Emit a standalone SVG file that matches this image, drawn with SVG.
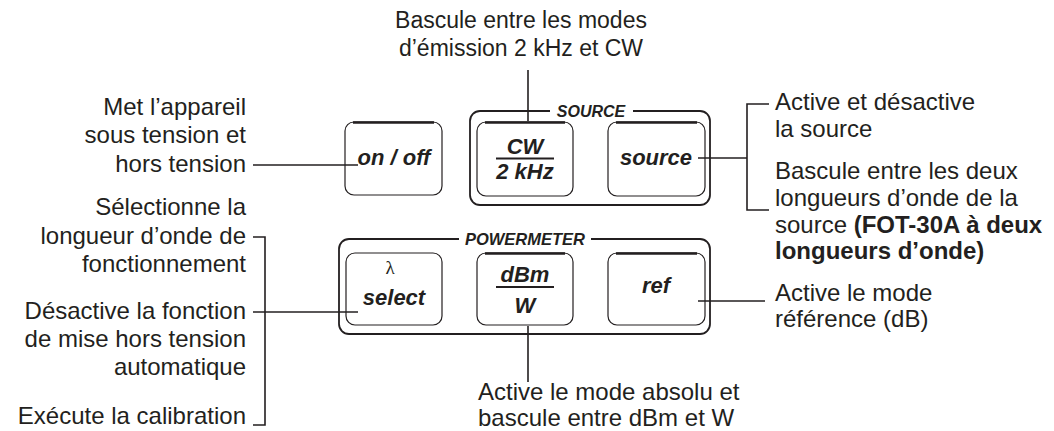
<svg xmlns="http://www.w3.org/2000/svg" width="1054" height="431" viewBox="0 0 1054 431">
  <style>
    .note { font-family: "Liberation Sans", Arial, sans-serif; font-size: 24px; fill: #231f20; }
    .note-top { font-size: 23px; }
    .note-b { font-weight: bold; }
    .key { font-family: "Liberation Sans", Arial, sans-serif; font-size: 22px; font-weight: bold; font-style: italic; fill: #231f20; text-anchor: middle; }
    .grp-label { font-family: "Liberation Sans", Arial, sans-serif; font-size: 16px; font-weight: bold; font-style: italic; fill: #231f20; text-anchor: middle; }
    .lambda { font-family: "Liberation Serif", "Times New Roman", serif; font-size: 19px; fill: #231f20; text-anchor: middle; }
    .btn { fill: #ffffff; stroke: #231f20; stroke-width: 1.2; }
    .btn-top { stroke: #231f20; stroke-width: 2.6; fill: none; }
    .panel { fill: none; stroke: #231f20; stroke-width: 1.8; }
    .wire { stroke: #231f20; stroke-width: 1.6; fill: none; }
    .bar { stroke: #231f20; stroke-width: 1.8; }
  </style>

  <rect width="1054" height="431" fill="#ffffff"/>

  <!-- panel frames, each broken where its title sits -->
  <g id="source-panel">
    <path class="panel" d="M550 111 H480 a10 10 0 0 0 -10 10 V195 a10 10 0 0 0 10 10 H700 a10 10 0 0 0 10 -10 V121 a10 10 0 0 0 -10 -10 H633"/>
    <text class="grp-label" x="591" y="117">SOURCE</text>
  </g>
  <g id="powermeter-panel">
    <path class="panel" d="M459 239 H349 a10 10 0 0 0 -10 10 V324 a10 10 0 0 0 10 10 H700 a10 10 0 0 0 10 -10 V249 a10 10 0 0 0 -10 -10 H591"/>
    <text class="grp-label" x="525" y="245" style="font-size:16.5px">POWERMETER</text>
  </g>

  <!-- keys -->
  <g id="key-onoff">
    <rect class="btn" x="345" y="122" width="97" height="73" rx="9"/>
    <line class="btn-top" x1="353" y1="122.5" x2="434" y2="122.5"/>
    <text class="key" x="394" y="165">on / off</text>
  </g>
  <g id="key-cw">
    <rect class="btn" x="477" y="122" width="96" height="74" rx="9"/>
    <line class="btn-top" x1="485" y1="122.5" x2="565" y2="122.5"/>
    <text class="key" x="525" y="154">CW</text>
    <line class="bar" x1="496" y1="158.5" x2="554" y2="158.5"/>
    <text class="key" x="525" y="179">2 kHz</text>
  </g>
  <g id="key-source">
    <rect class="btn" x="608" y="122" width="97" height="74" rx="9"/>
    <line class="btn-top" x1="616" y1="122.5" x2="697" y2="122.5"/>
    <text class="key" x="656" y="165">source</text>
  </g>
  <g id="key-select">
    <rect class="btn" x="346" y="253" width="96" height="72" rx="9"/>
    <text class="lambda" x="390" y="274">λ</text>
    <text class="key" x="394" y="305">select</text>
  </g>
  <g id="key-dbm">
    <rect class="btn" x="477" y="253" width="96" height="72" rx="9"/>
    <line class="btn-top" x1="485" y1="253.5" x2="565" y2="253.5"/>
    <text class="key" x="525" y="282">dBm</text>
    <line class="bar" x1="496" y1="287" x2="554" y2="287"/>
    <text class="key" x="525" y="313">W</text>
  </g>
  <g id="key-ref">
    <rect class="btn" x="608" y="253" width="97" height="72" rx="9"/>
    <line class="btn-top" x1="616" y1="253.5" x2="697" y2="253.5"/>
    <text class="key" x="656" y="293">ref</text>
  </g>

  <!-- leader lines -->
  <g id="connectors">
    <line class="wire" x1="253" y1="165" x2="358" y2="165"/>
    <line class="wire" x1="528" y1="70" x2="528" y2="121"/>
    <line class="wire" x1="698" y1="158" x2="747" y2="158"/>
    <path class="wire" d="M769 104 H747 V210 H769"/>
    <path class="wire" d="M253 237 H265 V425 H253"/>
    <line class="wire" x1="253" y1="312" x2="358" y2="312"/>
    <line class="wire" x1="698" y1="301" x2="765" y2="301"/>
    <line class="wire" x1="528" y1="326" x2="528" y2="382"/>
  </g>

  <!-- descriptions -->
  <g id="note-cw">
    <text class="note note-top" x="521" y="28" text-anchor="middle">Bascule entre les modes</text>
    <text class="note note-top" x="521" y="56" text-anchor="middle">d’émission 2 kHz et CW</text>
  </g>
  <g id="note-onoff" text-anchor="end">
    <text class="note" x="246" y="115">Met l’appareil</text>
    <text class="note" x="246" y="143">sous tension et</text>
    <text class="note" x="246" y="172">hors tension</text>
  </g>
  <g id="note-select" text-anchor="end">
    <text class="note" x="246" y="215">Sélectionne la</text>
    <text class="note" x="246" y="244">longueur d’onde de</text>
    <text class="note" x="246" y="272">fonctionnement</text>
    <text class="note" x="246" y="319">Désactive la fonction</text>
    <text class="note" x="246" y="347">de mise hors tension</text>
    <text class="note" x="246" y="375">automatique</text>
    <text class="note" x="246" y="424">Exécute la calibration</text>
  </g>
  <g id="note-source">
    <text class="note" x="775" y="110">Active et désactive</text>
    <text class="note" x="775" y="137">la source</text>
    <text class="note" x="775" y="179">Bascule entre les deux</text>
    <text class="note" x="775" y="206">longueurs d’onde de la</text>
    <text class="note" x="775" y="233">source <tspan class="note-b">(FOT-30A à deux</tspan></text>
    <text class="note note-b" x="775" y="259">longueurs d’onde)</text>
  </g>
  <g id="note-ref">
    <text class="note" x="775" y="301">Active le mode</text>
    <text class="note" x="775" y="327">référence (dB)</text>
  </g>
  <g id="note-dbm">
    <text class="note" x="478" y="400">Active le mode absolu et</text>
    <text class="note" x="478" y="426">bascule entre dBm et W</text>
  </g>
</svg>
